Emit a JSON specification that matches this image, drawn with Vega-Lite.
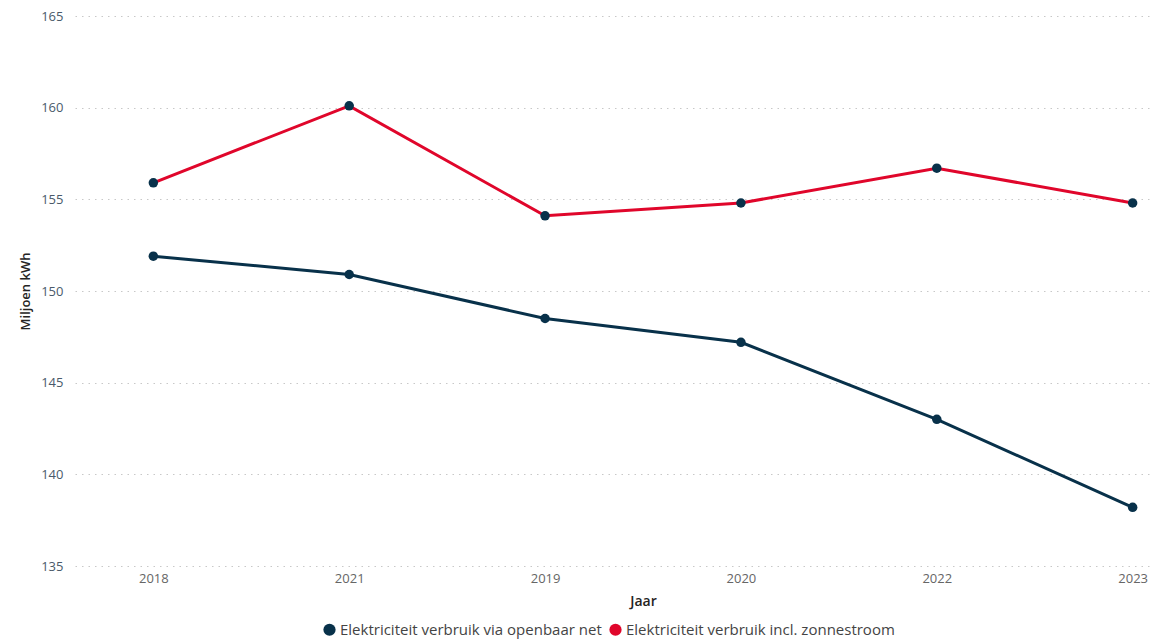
{
  "$schema": "https://vega.github.io/schema/vega-lite/v6.json",
  "width": 1136,
  "height": 550,
  "autosize": {"type": "none"},
  "padding": {"left": 75, "top": 16, "right": 0, "bottom": 74},
  "background": "white",
  "config": {
    "font": "Open Sans",
    "view": {"stroke": null}
  },
  "data": {
    "values": [
      {"Jaar": "2018", "serie": "Elektriciteit verbruik via openbaar net", "waarde": 151.9},
      {"Jaar": "2021", "serie": "Elektriciteit verbruik via openbaar net", "waarde": 150.9},
      {"Jaar": "2019", "serie": "Elektriciteit verbruik via openbaar net", "waarde": 148.5},
      {"Jaar": "2020", "serie": "Elektriciteit verbruik via openbaar net", "waarde": 147.2},
      {"Jaar": "2022", "serie": "Elektriciteit verbruik via openbaar net", "waarde": 143.0},
      {"Jaar": "2023", "serie": "Elektriciteit verbruik via openbaar net", "waarde": 138.2},
      {"Jaar": "2018", "serie": "Elektriciteit verbruik incl. zonnestroom", "waarde": 155.9},
      {"Jaar": "2021", "serie": "Elektriciteit verbruik incl. zonnestroom", "waarde": 160.1},
      {"Jaar": "2019", "serie": "Elektriciteit verbruik incl. zonnestroom", "waarde": 154.1},
      {"Jaar": "2020", "serie": "Elektriciteit verbruik incl. zonnestroom", "waarde": 154.8},
      {"Jaar": "2022", "serie": "Elektriciteit verbruik incl. zonnestroom", "waarde": 156.7},
      {"Jaar": "2023", "serie": "Elektriciteit verbruik incl. zonnestroom", "waarde": 154.8}
    ]
  },
  "encoding": {
    "x": {
      "field": "Jaar",
      "type": "ordinal",
      "sort": ["2018", "2021", "2019", "2020", "2022", "2023"],
      "scale": {"type": "point", "padding": 0.4},
      "axis": {
        "title": "Jaar",
        "labelAngle": 0,
        "domain": false,
        "ticks": false,
        "grid": false,
        "labelColor": "#666666",
        "labelFontSize": 13,
        "labelPadding": 6,
        "titleFontSize": 14,
        "titleFontWeight": 600,
        "titleColor": "#252423",
        "titlePadding": 9
      }
    },
    "y": {
      "field": "waarde",
      "type": "quantitative",
      "scale": {"domain": [135, 165], "nice": false, "zero": false},
      "axis": {
        "title": "Miljoen kWh",
        "values": [135, 140, 145, 150, 155, 160, 165],
        "domain": false,
        "ticks": false,
        "labelColor": "#4a5a6a",
        "labelFontSize": 13,
        "labelPadding": 12,
        "gridColor": "#c8c8c8",
        "gridDash": [1.5, 5],
        "gridWidth": 1,
        "titleFontSize": 13,
        "titleFontWeight": 600,
        "titleColor": "#252423",
        "titlePadding": 8
      }
    }
  },
  "layer": [
    {
      "mark": {"type": "line", "strokeWidth": 3},
      "encoding": {
        "color": {
          "field": "serie",
          "type": "nominal",
          "scale": {
            "domain": ["Elektriciteit verbruik via openbaar net", "Elektriciteit verbruik incl. zonnestroom"],
            "range": ["#08314a", "#e0062b"]
          },
          "legend": {
            "title": null,
            "orient": "none",
            "legendX": 247,
            "legendY": 606,
            "direction": "horizontal",
            "symbolType": "circle",
            "symbolSize": 150,
            "symbolStrokeWidth": 0,
            "labelFontSize": 15,
            "labelColor": "#444444",
            "labelLimit": 400,
            "columnPadding": 6,
            "labelOffset": 3,
            "encode": {
              "symbols": {
                "update": {
                  "fill": {"scale": "color", "field": "value"},
                  "fillOpacity": {"value": 1}
                }
              }
            }
          }
        }
      }
    },
    {
      "mark": {"type": "point", "filled": true, "size": 90, "color": "#08314a", "opacity": 1},
      "encoding": {
        "detail": {"field": "serie"}
      }
    }
  ]
}
